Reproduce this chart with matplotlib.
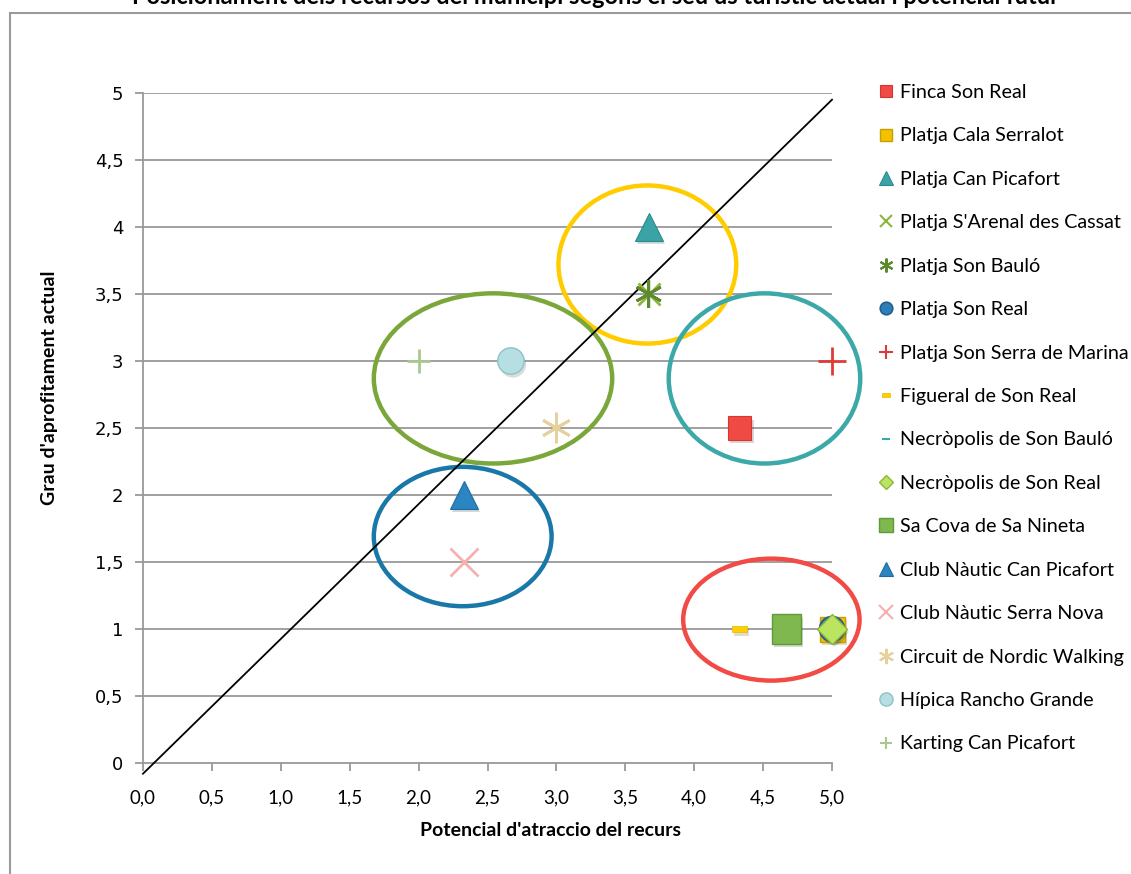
import numpy as np
import matplotlib
matplotlib.use("Agg")
import matplotlib.pyplot as plt
from matplotlib.lines import Line2D
from matplotlib.patches import Ellipse, Rectangle
import matplotlib.patheffects as pe

plt.rcParams['font.family'] = ['Lato', 'DejaVu Sans']

# ---- data ----
names = ["Finca Son Real", "Platja Cala Serralot", "Platja Can Picafort",
         "Platja S'Arenal des Cassat", "Platja Son Bauló", "Platja Son Real",
         "Platja Son Serra de Marina", "Figueral de Son Real",
         "Necròpolis de Son Bauló", "Necròpolis de Son Real",
         "Sa Cova de Sa Nineta", "Club Nàutic Can Picafort",
         "Club Nàutic Serra Nova", "Circuit de Nordic Walking",
         "Hípica Rancho Grande", "Karting Can Picafort"]
potencial = [4.33, 5.0, 3.67, 3.67, 3.67, 5.0, 5.0, 4.33, 4.67, 5.0, 4.67, 2.33, 2.33, 3.0, 2.67, 2.0]
aprofitament = [2.5, 1.0, 4.0, 3.5, 3.5, 1.0, 3.0, 1.0, 1.0, 1.0, 1.0, 2.0, 1.5, 2.5, 3.0, 3.0]

x_ticks = [0, 0.5, 1, 1.5, 2, 2.5, 3, 3.5, 4, 4.5, 5]
x_ticklabels = ["0,0", "0,5", "1,0", "1,5", "2,0", "2,5", "3,0", "3,5", "4,0", "4,5", "5,0"]
y_ticks = [0, 0.5, 1, 1.5, 2, 2.5, 3, 3.5, 4, 4.5, 5]
y_ticklabels = ["0", "0,5", "1", "1,5", "2", "2,5", "3", "3,5", "4", "4,5", "5"]

# diagonal reference line
diag_x = [0.0, 5.0]
diag_y = [-0.08, 4.95]

# groups (ellipses): centre x, centre y, width, height, colour
groups_cx = [3.66, 2.54, 4.51, 2.32, 4.56]
groups_cy = [3.72, 2.87, 2.87, 1.69, 1.07]
groups_w = [1.29, 1.73, 1.39, 1.29, 1.28]
groups_h = [1.18, 1.27, 1.27, 1.04, 0.91]
groups_col = ["#FFCC00", "#7AA63A", "#3DA8A8", "#1A78A8", "#F24A45"]

dash = [(-1, -0.45), (1, -0.45), (1, 0.45), (-1, 0.45), (-1, -0.45)]

# style per series: marker, size, face, edge, edge width
styles = [
    ('s', 17, "#F04A44", "#D83530", 0.8),
    ('s', 18, "#F2C200", "#C89E00", 1.0),
    ('^', 20, "#3AA3A6", "#2D8A8C", 0.8),
    ('x', 16, "#8DB63C", "#8DB63C", 2.0),
    ((6, 2, 0), 20, "#5E8A2E", "#5E8A2E", 2.0),
    ('o', 18, "#2E7EB8", "#1F5F90", 1.2),
    ('+', 20, "#E03A36", "#E03A36", 2.0),
    (dash, 11, "#FFD000", "#E8B800", 0.5),
    ('_', 12, "#3AA8A8", "#3AA8A8", 3.0),
    ('D', 15, "#BBE460", "#8DB63C", 1.0),
    ('s', 21, "#80B850", "#5E9A38", 1.0),
    ('^', 20, "#2A85C0", "#1E6A9C", 0.8),
    ('x', 20, "#F6B0B0", "#F6B0B0", 2.0),
    ((6, 2, 0), 22, "#E6D09C", "#E6D09C", 2.0),
    ('o', 19, "#B5DFE2", "#8EC2C6", 1.0),
    ('+', 17, "#A8C88C", "#A8C88C", 2.0),
]
draw_order = [0, 2, 3, 4, 6, 7, 8, 10, 1, 5, 9, 11, 12, 13, 14, 15]

fig = plt.figure(figsize=(11.31, 8.74), dpi=100)
ax = fig.add_axes([143 / 1131, 1 - 763 / 874, 689 / 1131, 670 / 874])

# chart border
fig.patches.append(Rectangle((10 / 1131, -0.01), 1.1, 1 - 13 / 874 + 0.01,
                             transform=fig.transFigure, fill=False,
                             edgecolor="#9a9a9a", linewidth=1.5))

for yt in y_ticks[1:]:
    ax.axhline(yt, color="#999999", linewidth=1.3, zorder=1)

for cx, cy, w, h, c in zip(groups_cx, groups_cy, groups_w, groups_h, groups_col):
    ax.add_patch(Ellipse((cx, cy), w, h, fill=False, edgecolor=c, linewidth=3.2,
                         zorder=2, clip_on=False))

ax.plot(diag_x, diag_y, color="black", linewidth=1.3, zorder=3, clip_on=False)

shadow = [pe.SimplePatchShadow(offset=(1.5, -2.5), alpha=0.18), pe.Normal()]
for i in draw_order:
    m, ms, fc, ec, mew = styles[i]
    ax.plot([potencial[i]], [aprofitament[i]], linestyle='none', marker=m,
            markersize=ms, markerfacecolor=fc, markeredgecolor=ec,
            markeredgewidth=mew, zorder=4 + i * 0.01, clip_on=False,
            path_effects=shadow)

ax.set_xlim(0, 5)
ax.set_ylim(0, 5)
ax.set_xticks(x_ticks)
ax.set_xticklabels(x_ticklabels, fontsize=13.5)
ax.set_yticks(y_ticks)
ax.set_yticklabels(y_ticklabels, fontsize=13, family=['DejaVu Sans'])
ax.tick_params(axis='both', colors="#999999", labelcolor="black", length=6, width=1.3)
ax.tick_params(axis='x', pad=13)
ax.tick_params(axis='y', pad=8)
for s in ['top', 'right']:
    ax.spines[s].set_visible(False)
for s in ['left', 'bottom']:
    ax.spines[s].set_color("#999999")
    ax.spines[s].set_linewidth(1.3)
ax.set_facecolor('none')

fig.text(550 / 1131, 1 - 830 / 874, "Potencial d'atraccio del recurs",
         ha='center', va='center', fontsize=14, fontweight='bold')
fig.text(50 / 1131, 1 - 388 / 874, "Grau d'aprofitament actual", rotation=90,
         ha='center', va='center', fontsize=14, fontweight='bold')
fig.text(595 / 1131, 1 + 4 / 874,
         "Posicionament dels recursos del municipi segons el seu ús turístic actual i potencial futur",
         ha='center', va='center', fontsize=17, fontweight='bold')

handles = []
for i in range(len(names)):
    m, ms, fc, ec, mew = styles[i]
    handles.append(Line2D([], [], linestyle='none', marker=m, markersize=ms * 0.5,
                          markerfacecolor=fc, markeredgecolor=ec,
                          markeredgewidth=min(mew, 1.5)))
fig.legend(handles, names, loc='upper left', bbox_to_anchor=(878 / 1131, 1 - 84 / 874),
           frameon=False, fontsize=14.2, labelspacing=1.34, handlelength=0.8,
           handletextpad=0.3, borderaxespad=0, borderpad=0)

fig.savefig("out.png", dpi=100)
